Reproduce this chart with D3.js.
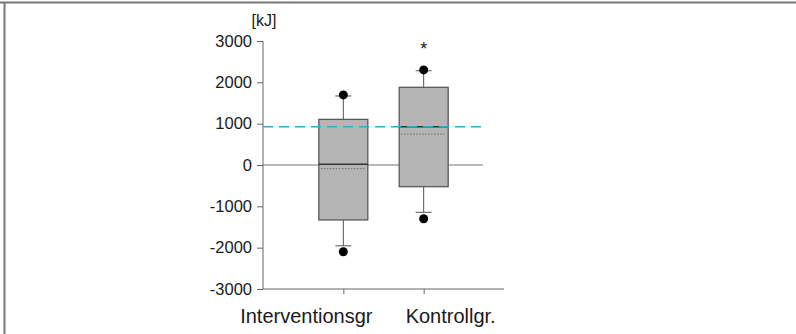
<!DOCTYPE html>
<html>
<head>
<meta charset="utf-8">
<script src="https://cdn.jsdelivr.net/npm/d3@7"></script>
<style>
  body { margin: 0; background: #fff; }
  svg { display: block; font-family: "Liberation Sans", Arial, sans-serif; }
</style>
</head>
<body>
<div id="graph"></div>
<script>
// groups and box statistics (kJ)
const categories = ["Interventionsgr", "Kontrollgr."];
const q1 = [-1330, -525];
const q3 = [1105, 1880];
const medians = [20, 925];
const means = [-90, 745];
const whiskLow = [-1955, -1145];
const whiskHigh = [1670, 2280];
const outliersLow = [-2100, -1300];
const outliersHigh = [1695, 2300];
const refLine = 925;
const significant = [false, true];
const yTicks = [-3000, -2000, -1000, 0, 1000, 2000, 3000];

const W = 796, H = 334;
const svg = d3.select("#graph").append("svg")
  .attr("width", W).attr("height", H);

// frame (top + left edges)
svg.append("line").attr("x1", 0).attr("x2", W).attr("y1", 2.5).attr("y2", 2.5)
  .attr("stroke", "#777").attr("stroke-width", 2);
svg.append("line").attr("x1", 4.5).attr("x2", 4.5).attr("y1", 2).attr("y2", H)
  .attr("stroke", "#777").attr("stroke-width", 2);

const plotLeft = 263, plotRight = 504, plotTop = 41, plotBottom = 289;

const x = d3.scalePoint().domain(categories).range([plotLeft, plotRight]).padding(1);
const y = d3.scaleLinear().domain([-3000, 3000]).range([plotBottom, plotTop]);

const boxW = 49, capW = 16;

// y axis
const yAxis = svg.append("g")
  .attr("transform", "translate(" + plotLeft + ",0)")
  .call(d3.axisLeft(y).tickValues(yTicks).tickSize(6).tickPadding(5).tickFormat(d => String(d)));
yAxis.select(".domain").attr("stroke", "#666").attr("d", "M0," + plotTop + "V" + plotBottom);
yAxis.selectAll(".tick line").attr("stroke", "#666");
yAxis.selectAll(".tick text").attr("font-size", 16.5).attr("fill", "#1a1a1a")
  .attr("font-family", "Liberation Sans, Arial, sans-serif");

// x axis
const xAxis = svg.append("g")
  .attr("transform", "translate(0," + plotBottom + ")")
  .call(d3.axisBottom(x).tickSize(5).tickFormat(""));
xAxis.select(".domain").attr("stroke", "#666").attr("d", "M" + plotLeft + ",0H" + plotRight);
xAxis.selectAll(".tick line").attr("stroke", "#666");

const labelDx = [-37, 27];
svg.selectAll(".cat").data(categories).enter().append("text")
  .attr("class", "cat")
  .attr("x", (d, i) => x(d) + labelDx[i])
  .attr("y", 323)
  .attr("text-anchor", "middle")
  .attr("font-size", 20)
  .attr("fill", "#1a1a1a")
  .text(d => d);

svg.append("text").attr("x", 264).attr("y", 26).attr("text-anchor", "middle")
  .attr("font-size", 16).attr("fill", "#1a1a1a").text("[kJ]");

// zero line
svg.append("line").attr("x1", plotLeft).attr("x2", 483)
  .attr("y1", y(0)).attr("y2", y(0)).attr("stroke", "#777").attr("stroke-width", 1.2);

const g = svg.selectAll(".box").data(categories).enter().append("g").attr("class", "box");

// whiskers
g.append("line").attr("x1", d => x(d)).attr("x2", d => x(d))
  .attr("y1", (d, i) => y(whiskHigh[i])).attr("y2", (d, i) => y(q3[i]))
  .attr("stroke", "#555");
g.append("line").attr("x1", d => x(d)).attr("x2", d => x(d))
  .attr("y1", (d, i) => y(q1[i])).attr("y2", (d, i) => y(whiskLow[i]))
  .attr("stroke", "#555");
g.append("line").attr("x1", d => x(d) - capW / 2).attr("x2", d => x(d) + capW / 2)
  .attr("y1", (d, i) => y(whiskHigh[i])).attr("y2", (d, i) => y(whiskHigh[i]))
  .attr("stroke", "#555");
g.append("line").attr("x1", d => x(d) - capW / 2).attr("x2", d => x(d) + capW / 2)
  .attr("y1", (d, i) => y(whiskLow[i])).attr("y2", (d, i) => y(whiskLow[i]))
  .attr("stroke", "#555");

// boxes
g.append("rect")
  .attr("x", d => x(d) - boxW / 2)
  .attr("width", boxW)
  .attr("y", (d, i) => y(q3[i]))
  .attr("height", (d, i) => y(q1[i]) - y(q3[i]))
  .attr("fill", "#b5b5b5").attr("stroke", "#505050").attr("stroke-width", 1.2);

// median and mean
g.append("line").attr("x1", d => x(d) - boxW / 2).attr("x2", d => x(d) + boxW / 2)
  .attr("y1", (d, i) => y(medians[i])).attr("y2", (d, i) => y(medians[i]))
  .attr("stroke", "#333").attr("stroke-width", 1.5);
g.append("line").attr("x1", d => x(d) - boxW / 2 + 2).attr("x2", d => x(d) + boxW / 2 - 2)
  .attr("y1", (d, i) => y(means[i])).attr("y2", (d, i) => y(means[i]))
  .attr("stroke", "#777").attr("stroke-width", 1.2).attr("stroke-dasharray", "1.5,1.5");

// outliers
g.append("circle").attr("cx", d => x(d)).attr("cy", (d, i) => y(outliersHigh[i]))
  .attr("r", 4.5).attr("fill", "#000");
g.append("circle").attr("cx", d => x(d)).attr("cy", (d, i) => y(outliersLow[i]))
  .attr("r", 4.5).attr("fill", "#000");

// significance
g.filter((d, i) => significant[i]).append("text")
  .attr("x", d => x(d)).attr("y", 55)
  .attr("text-anchor", "middle").attr("font-size", 18).attr("fill", "#1a1a1a").text("*");

// reference line
svg.append("line").attr("x1", plotLeft).attr("x2", 482)
  .attr("y1", y(refLine)).attr("y2", y(refLine))
  .attr("stroke", "#2aaad8").attr("stroke-width", 1.5).attr("stroke-dasharray", "10,6");
</script>
</body>
</html>
